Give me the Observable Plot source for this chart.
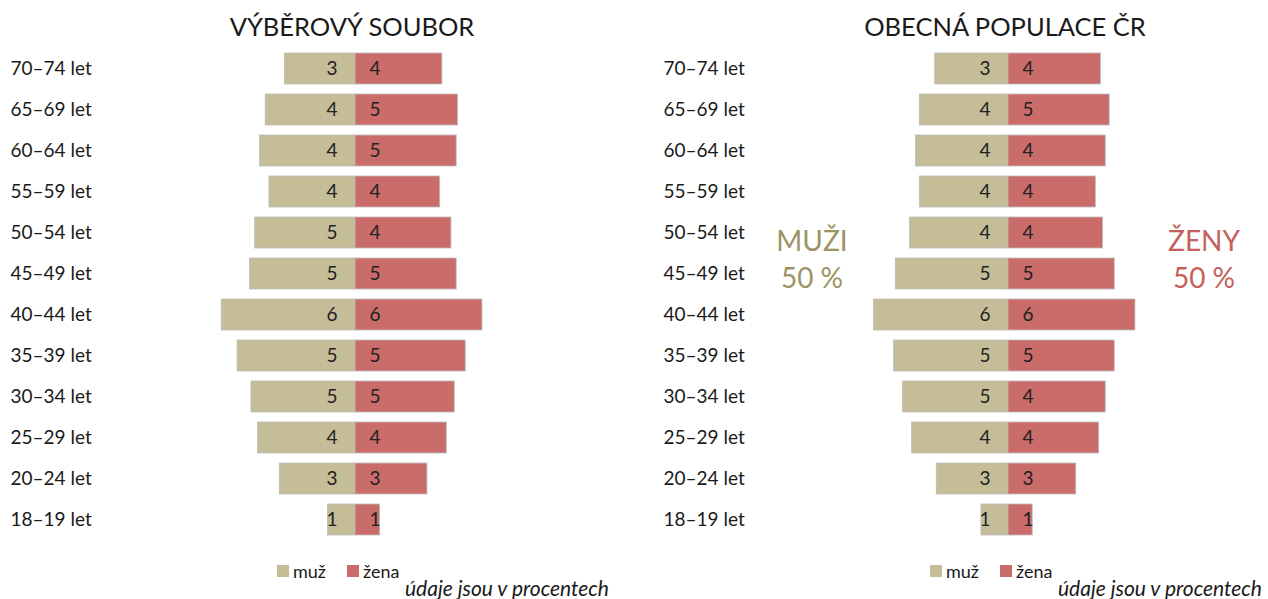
<!DOCTYPE html>
<html><head><meta charset="utf-8">
<script src="https://cdn.jsdelivr.net/npm/d3@7"></script>
<script src="https://cdn.jsdelivr.net/npm/@observablehq/plot@0.6"></script>
<style>
html,body{margin:0;padding:0;background:#fff;overflow:hidden}
body{font-family:Lato,sans-serif;color:#1a1a1a}
#root{position:relative;width:1268px;height:599px}
.panel{position:absolute;top:0;width:615px;height:599px}
.title{position:absolute;top:7px;left:102px;width:500px;text-align:center;font-size:25.5px;line-height:38px;white-space:nowrap}
.chart{position:absolute;top:45px;left:0}
.legend{position:absolute;top:561px;left:277px;display:flex;align-items:center;font-size:18px;line-height:20px;white-space:nowrap}
.legend .item{display:flex;align-items:center;margin-right:21px}
.legend .sw{display:inline-block;width:12px;height:12px;margin-right:4px}
.caption{position:absolute;top:577px;left:405px;font-style:italic;font-size:21px;line-height:22px;white-space:nowrap}
.total{position:absolute;top:222px;width:100px;text-align:center;font-size:28px;line-height:37px;white-space:pre}
</style></head><body><div id="root"></div>
<script>
// ---- data (top row first) ----
const ages = ["70–74 let","65–69 let","60–64 let","55–59 let","50–54 let","45–49 let","40–44 let","35–39 let","30–34 let","25–29 let","20–24 let","18–19 let"];
const sexes = ["muž","žena"];
const sexColors = ["#c4bd97","#c96c6a"];
const totalLabels = ["MUŽI","ŽENY"];
const totalColors = ["#9c9465","#c4605e"];
const panelTitles = ["VÝBĚROVÝ SOUBOR","OBECNÁ POPULACE ČR"];
const caption = "údaje jsou v procentech";
// výběrový soubor (sample), %
const sampleMale   = [3.21,4.08,4.34,3.91,4.56,4.80,6.08,5.36,4.73,4.43,3.44,1.25];
const sampleFemale = [3.95,4.66,4.60,3.85,4.36,4.60,5.77,5.01,4.51,4.15,3.27,1.12];
// obecná populace ČR (population), %
const popMale   = [3.33,4.03,4.21,4.03,4.47,5.12,6.12,5.20,4.79,4.38,3.26,1.23];
const popFemale = [4.20,4.60,4.42,3.97,4.30,4.83,5.77,4.83,4.42,4.12,3.08,1.10];

const root = document.getElementById("root");

function makePanel(title, male, female, left, showTotals) {
  const p = document.createElement("div");
  p.className = "panel";
  p.style.left = left + "px";
  root.appendChild(p);

  const t = document.createElement("div");
  t.className = "title";
  t.textContent = title;
  p.appendChild(t);

  const data = ages.flatMap((a, i) => [
    {age: a, sex: sexes[0], v: male[i]},
    {age: a, sex: sexes[1], v: female[i]}
  ]);
  const mData = data.filter(d => d.sex === sexes[0]);
  const fData = data.filter(d => d.sex === sexes[1]);

  const chart = Plot.plot({
    width: 615,
    height: 505,
    marginLeft: 10,
    marginRight: 0,
    marginTop: 0,
    marginBottom: 0,
    style: {fontFamily: "Lato, sans-serif", background: "transparent", color: "#1a1a1a"},
    x: {domain: [-7, 7], range: [201, 509], axis: null},
    y: {domain: ages, range: [0, 498], paddingInner: 0.25, paddingOuter: 0.125, axis: null},
    color: {domain: sexes, range: sexColors},
    marks: [
      Plot.barX(data, {y: "age", x: d => d.sex === sexes[0] ? -d.v : d.v, fill: "sex", stroke: "#bcbcbc", strokeWidth: 0.8}),
      Plot.text(ages, {y: d => d, text: d => d, frameAnchor: "left", textAnchor: "start", fontSize: 19, fill: "#1a1a1a", style: {wordSpacing: "2px"}}),
      Plot.text(mData, {y: "age", x: 0, text: d => String(Math.round(d.v)), textAnchor: "end", dx: -18, fontSize: 19, fill: "#222"}),
      Plot.text(fData, {y: "age", x: 0, text: d => String(Math.round(d.v)), textAnchor: "start", dx: 14, fontSize: 19, fill: "#222"})
    ]
  });
  const c = document.createElement("div");
  c.className = "chart";
  c.appendChild(chart);
  p.appendChild(c);

  // legend
  const lg = document.createElement("div");
  lg.className = "legend";
  sexes.forEach((s, i) => {
    const it = document.createElement("span");
    it.className = "item";
    const sw = document.createElement("span");
    sw.className = "sw";
    sw.style.background = sexColors[i];
    it.appendChild(sw);
    it.appendChild(document.createTextNode(s));
    lg.appendChild(it);
  });
  p.appendChild(lg);

  const cap = document.createElement("div");
  cap.className = "caption";
  cap.textContent = caption;
  p.appendChild(cap);

  if (showTotals) {
    const sums = [d3.sum(male), d3.sum(female)];
    const lefts = [109, 501];
    totalLabels.forEach((lab, i) => {
      const d = document.createElement("div");
      d.className = "total";
      d.style.left = lefts[i] + "px";
      d.style.color = totalColors[i];
      d.textContent = lab + "\n" + Math.round(sums[i]) + " %";
      p.appendChild(d);
    });
  }
}

makePanel(panelTitles[0], sampleMale, sampleFemale, 0, false);
makePanel(panelTitles[1], popMale, popFemale, 653, true);
</script>
</body></html>
